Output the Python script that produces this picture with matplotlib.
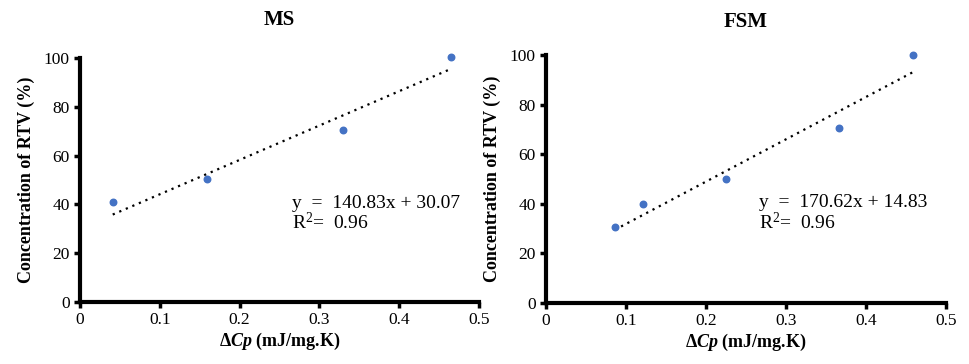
import numpy as np
import matplotlib
matplotlib.use("Agg")
import matplotlib.pyplot as plt

plt.rcParams['font.family'] = ['Liberation Serif', 'DejaVu Serif']
plt.rcParams['mathtext.fontset'] = 'custom'
plt.rcParams['mathtext.rm'] = 'Liberation Serif'
plt.rcParams['mathtext.bf'] = 'Liberation Serif:bold'
plt.rcParams['mathtext.it'] = 'Liberation Serif:bold:italic'

# data
ms_dcp = [0.041, 0.159, 0.330, 0.465]
ms_conc = [41, 50.5, 70.5, 100.5]
ms_slope, ms_icpt = 140.83, 30.07

fsm_dcp = [0.086, 0.121, 0.225, 0.366, 0.459]
fsm_conc = [30.5, 40, 50, 70.5, 100]
fsm_slope, fsm_icpt = 170.62, 14.83

r2 = [0.96, 0.96]
titles = ["MS", "FSM"]
x_ticks = [0, 0.1, 0.2, 0.3, 0.4, 0.5]
y_ticks = [0, 20, 40, 60, 80, 100]

fig = plt.figure(figsize=(9.69, 3.64), dpi=100)
ax1 = fig.add_axes([80 / 969, 1 - 302 / 364, 399 / 969, 244 / 364])
ax2 = fig.add_axes([546 / 969, 1 - 303 / 364, 400 / 969, 248 / 364])

panels = [
    (ax1, ms_dcp, ms_conc, ms_slope, ms_icpt, r2[0], titles[0], 24),
    (ax2, fsm_dcp, fsm_conc, fsm_slope, fsm_icpt, r2[1], titles[1], 20),
]

for ax, xs, ys, slope, icpt, rr, title, tpad in panels:
    xs = np.array(xs)
    ax.scatter(xs, ys, s=22, color='#4472C4', zorder=3, clip_on=False)
    xl = np.array([xs.min(), xs.max()])
    ax.plot(xl, slope * xl + icpt, color='black', linestyle=(0, (1, 2.2)),
            linewidth=1.6)

    ax.set_xlim(0, 0.5)
    ax.set_ylim(0, 100)
    ax.set_xticks(x_ticks)
    ax.set_xticklabels(["0", "0.1", "0.2", "0.3", "0.4", "0.5"])
    ax.set_yticks(y_ticks)
    ax.tick_params(axis='both', labelsize=12.5, width=2.5, length=4,
                   direction='out', colors='black')
    ax.tick_params(axis='x', pad=3)
    for side in ['top', 'right']:
        ax.spines[side].set_visible(False)
    for side in ['left', 'bottom']:
        ax.spines[side].set_linewidth(3)

    ax.set_title(title, fontsize=15, fontweight='bold', pad=tpad)
    ax.set_ylabel("Concentration of RTV (%)", fontsize=13, fontweight='bold',
                  labelpad=6)
    ax.set_xlabel(r"$\mathbf{\Delta}\mathit{Cp}$ (mJ/mg.K)", fontsize=13,
                  fontweight='bold', labelpad=2)

    ax.text(0.266, 40.5, f"y  =  {slope:.2f}x + {icpt:.2f}", fontsize=14,
            va='center', ha='left')
    ax.text(0.266, 32.5, r"R$^2$= " + f" {rr:.2f}", fontsize=14,
            va='center', ha='left')

fig.savefig("out.png", dpi=100)
